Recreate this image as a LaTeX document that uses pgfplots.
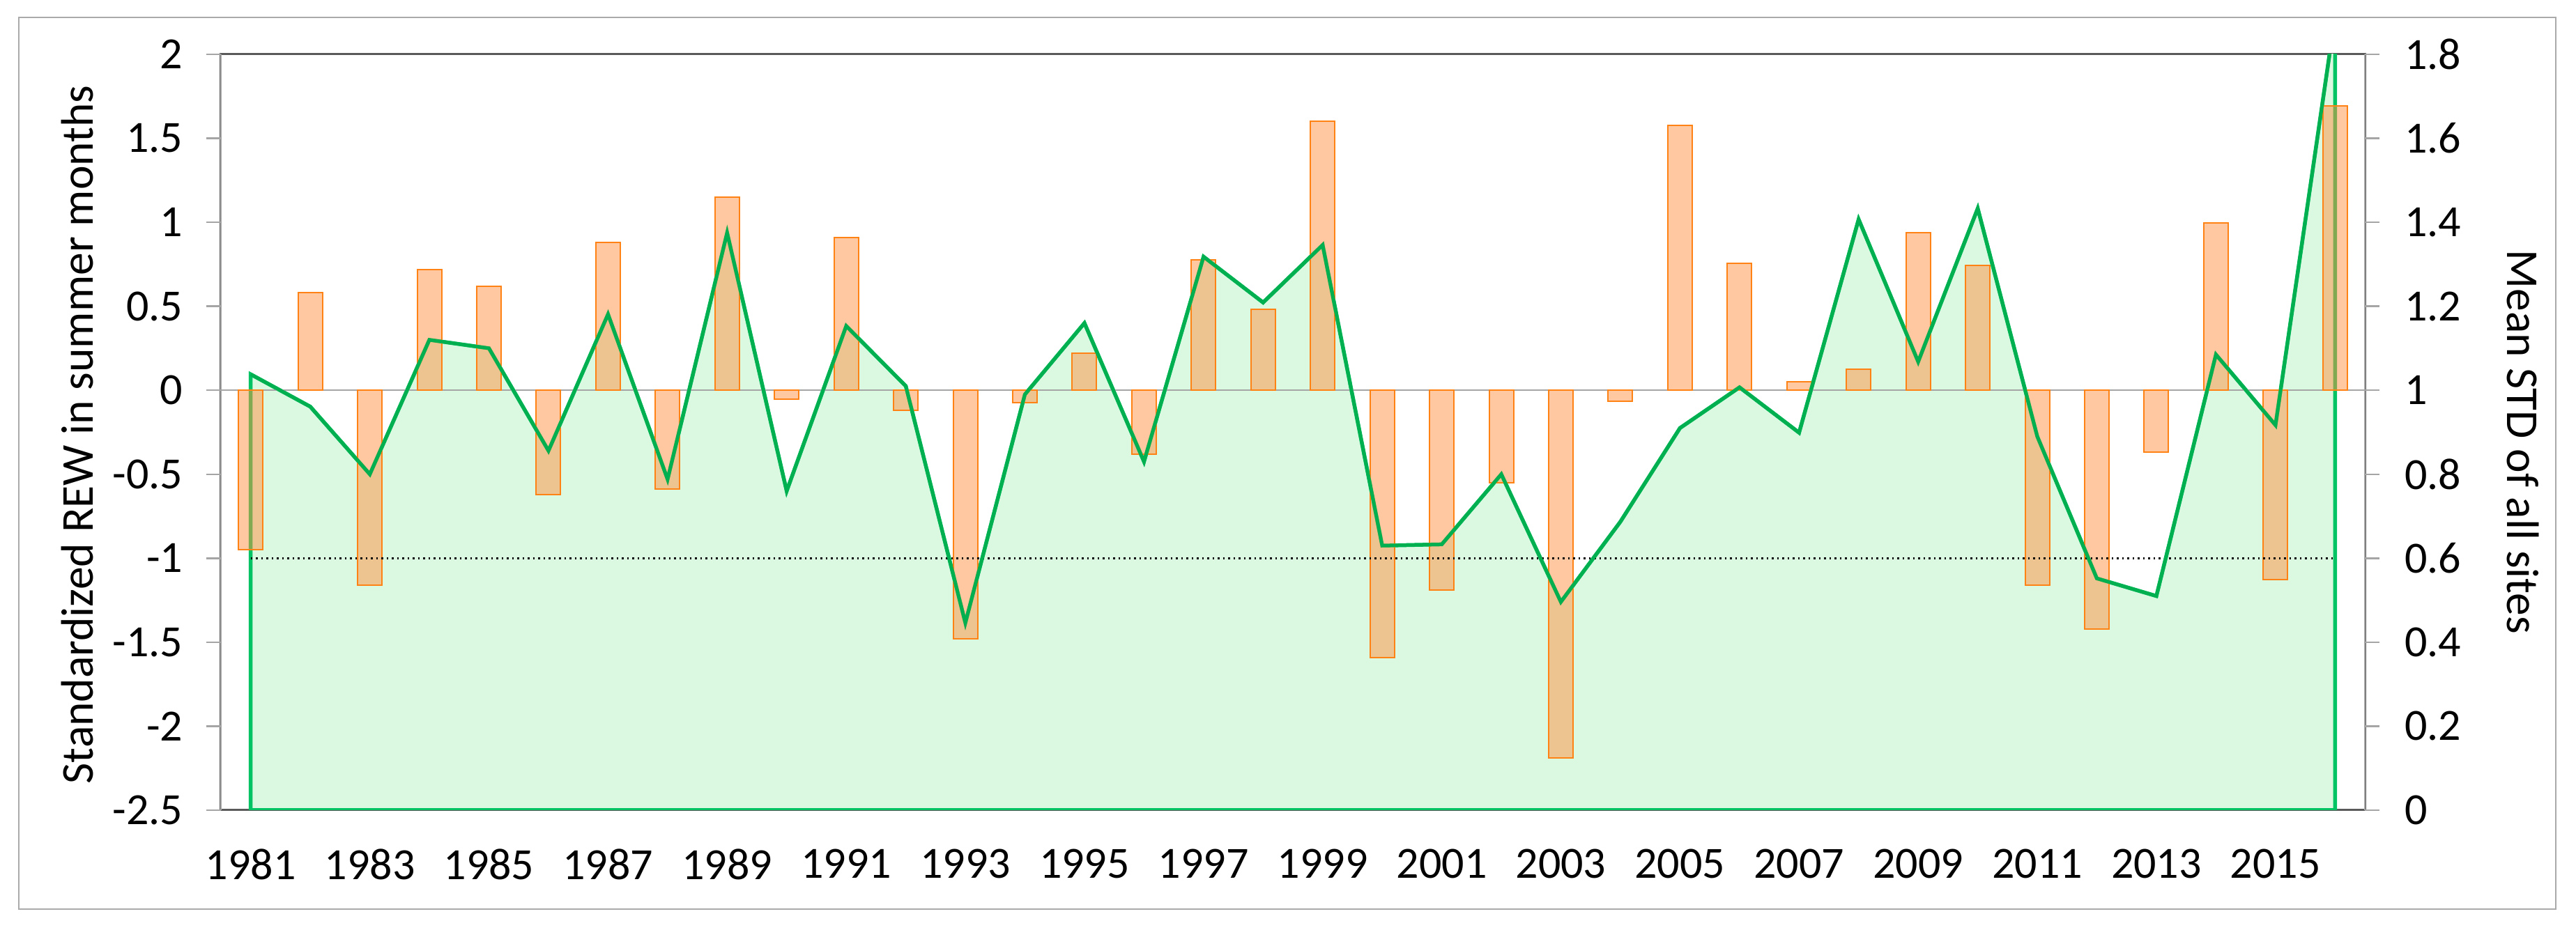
\documentclass[border=0pt]{standalone}
\usepackage{fontspec}
\setmainfont{Carlito}
\usepackage{pgfplots}
\usepackage{pgfplotstable}
\pgfplotsset{compat=1.18}
\definecolor{areagreen}{RGB}{219,249,225}
\definecolor{linegreen}{RGB}{0,176,80}
\definecolor{edgegreen}{RGB}{0,195,100}
\definecolor{barorange}{RGB}{255,145,65}
\definecolor{baredge}{RGB}{255,130,20}
\definecolor{framegray}{RGB}{90,90,90}
\definecolor{axgray}{RGB}{165,165,165}
\definecolor{outgray}{RGB}{170,170,170}

\pgfplotstableread{
year rew
1981 -0.95
1982 0.58
1983 -1.16
1984 0.72
1985 0.62
1986 -0.62
1987 0.88
1988 -0.59
1989 1.15
1990 -0.055
1991 0.91
1992 -0.12
1993 -1.48
1994 -0.075
1995 0.22
1996 -0.38
1997 0.775
1998 0.48
1999 1.60
2000 -1.59
2001 -1.19
2002 -0.55
2003 -2.19
2004 -0.067
2005 1.575
2006 0.754
2007 0.05
2008 0.127
2009 0.94
2010 0.743
2011 -1.16
2012 -1.42
2013 -0.37
2014 0.995
2015 -1.126
2016 1.695
}\rewtable

\pgfplotstableread{
year std
1981 1.038
1982 0.961
1983 0.80
1984 1.12
1985 1.10
1986 0.856
1987 1.181
1988 0.788
1989 1.375
1990 0.76
1991 1.153
1992 1.01
1993 0.446
1994 0.99
1995 1.16
1996 0.83
1997 1.318
1998 1.209
1999 1.346
2000 0.63
2001 0.633
2002 0.80
2003 0.496
2004 0.687
2005 0.91
2006 1.007
2007 0.899
2008 1.407
2009 1.068
2010 1.433
2011 0.89
2012 0.552
2013 0.51
2014 1.085
2015 0.917
2016 1.89
}\stdtable

\begin{document}
\begin{tikzpicture}[font=\fontsize{13.1}{15.5}\selectfont]
\path[use as bounding box] (-63.4pt,-34.4pt) rectangle (675.8pt,232.6pt);
\draw[outgray,line width=0.5pt] (-58pt,-28.4pt) rectangle (670pt,227.6pt);
\pgfplotsset{common/.style={
  scale only axis, width=615.2pt, height=217pt,
  xmin=1980.5, xmax=2016.5,
  /pgf/number format/assume math mode=true,
  tick label style={font=\fontsize{12.8}{15}\selectfont},
  label style={font=\fontsize{13.1}{15.5}\selectfont},
}}
% area + frame
\begin{axis}[common, ymin=0, ymax=1.8, ytick=\empty,
  xtick={1981,1983,...,2015},
  xticklabel style={/pgf/number format/1000 sep={}, yshift=-7.7pt},
  xtick style={draw=none},
  axis line style={framegray, line width=0.6pt}]
\addplot[fill=areagreen, draw=edgegreen, line width=1.1pt] table[x=year,y=std]{\stdtable} \closedcycle;
\end{axis}
% left axis: bars
\begin{axis}[common, ymin=-2.5, ymax=2,
  axis y line*=left, axis x line=none,
  ytick={-2.5,-2,-1.5,-1,-0.5,0,0.5,1,1.5,2},
  y axis line style={axgray, line width=0.5pt},
  ytick style={axgray, line width=0.5pt},
  tick align=outside, major tick length=4.2pt,
  yticklabel style={xshift=-3.2pt},
  ylabel={Standardized REW in summer months},
  ylabel style={at={(axis description cs:-0.067,0.497)}, anchor=center}]
\addplot[axgray, line width=0.5pt] coordinates {(1980.5,0) (2016.5,0)};
\addplot[ybar, bar width=7pt, fill=barorange, fill opacity=0.5, draw=baredge, line width=0.4pt] table[x=year,y=rew]{\rewtable};
\addplot[black, densely dotted, line width=0.5pt] coordinates {(1981,-1) (2016,-1)};
\end{axis}
% right axis: line
\begin{axis}[common, ymin=0, ymax=1.8,
  axis y line*=right, axis x line=none,
  ytick={0,0.2,0.4,0.6,0.8,1,1.2,1.4,1.6,1.8},
  y axis line style={axgray, line width=0.5pt},
  ytick style={axgray, line width=0.5pt},
  tick align=outside, major tick length=4.2pt,
  yticklabel style={xshift=3.7pt},
  ylabel={Mean STD of all sites},
  ylabel style={at={(axis description cs:1.0738,0.487)}, anchor=center, rotate=180}]
\addplot[linegreen, line width=1pt] table[x=year,y=std]{\stdtable};
\end{axis}
\end{tikzpicture}
\end{document}
